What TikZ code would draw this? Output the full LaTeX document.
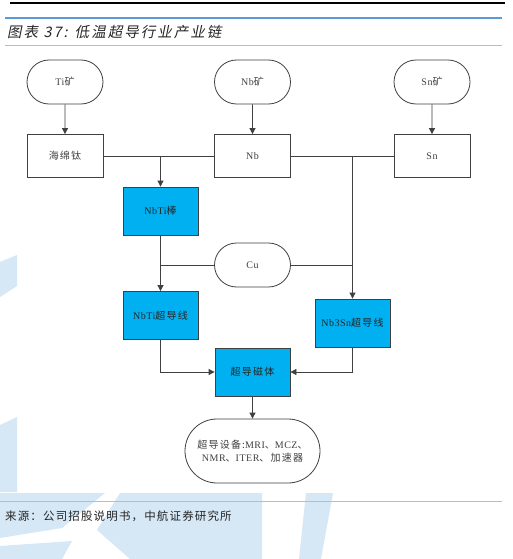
\documentclass[tikz,border=0pt]{standalone}
\usepackage{fontspec}
\newfontfamily\cjk[LetterSpace=10]{Noto Sans CJK SC}
\newfontfamily\cjkn[LetterSpace=12]{Noto Sans CJK SC}
\newfontfamily\cjkit[FakeSlant=0.2,LetterSpace=14]{Noto Sans CJK SC}
\newfontfamily\lat[LetterSpace=5]{Liberation Serif}
\usetikzlibrary{shapes.misc,arrows.meta}
\definecolor{wm}{HTML}{D6E8F6}
\definecolor{topblue}{HTML}{5B9BD5}
\definecolor{thinblue}{HTML}{9DC3E6}
\definecolor{boxblue}{HTML}{00B0F0}
\definecolor{edge}{HTML}{404040}
\definecolor{txt}{HTML}{404040}
\begin{document}
\begin{tikzpicture}[x=1pt,y=-1pt,
  base/.style={draw=edge,line width=0.8pt,inner sep=0pt,align=center,font=\cjkn\fontsize{10}{13}\selectfont,text=txt},
  stadium/.style={base,rounded rectangle,minimum width=76pt,minimum height=44pt},
  whitebox/.style={base,rectangle,minimum width=76pt,minimum height=43pt,fill=white},
  bluebox/.style={base,rectangle,minimum width=75pt,minimum height=48pt,fill=boxblue,text=black!85},
  arr/.style={draw=edge,line width=0.8pt,-{Triangle[length=6pt,width=6pt]}},
  ln/.style={draw=edge,line width=0.8pt}]
\useasboundingbox (0,0) rectangle (512,559);
\fill[white] (0,0) rectangle (512,559);
% watermark
\fill[wm] (0,262) -- (17,255) -- (17,286) -- (0,297) -- cycle;
\fill[wm] (0,425) -- (17,417) -- (17,492) -- (0,492) -- cycle;
\fill[wm] (0,493) -- (105,493) -- (62,528) -- (0,538) -- cycle;
\fill[wm] (120,493) -- (262,493) -- (262,559) -- (130,559) -- (97,530) -- cycle;
\fill[wm] (0,546) -- (72,541) -- (62,559) -- (0,559) -- cycle;
\fill[wm] (306,493) -- (333,493) -- (321,559) -- (299,559) -- cycle;
% header lines
\draw[black,line width=1.2pt] (10,3) -- (505,3);
\draw[topblue,line width=2pt] (5,18) -- (502,18);
\draw[thinblue,line width=0.8pt] (5,45) -- (502,45);
\node[anchor=west,inner sep=0pt,text=black!85,font=\cjkit\fontsize{14.5}{16}\selectfont] (cap) at (7,32) {图表 37: 低温超导行业产业链};
\draw[thinblue,line width=0.8pt] (0,501) -- (502,501);
\node[anchor=west,inner sep=0pt,text=black!85,font=\cjk\fontsize{11.5}{14}\selectfont] (src) at (5,516) {来源：公司招股说明书，中航证券研究所};
% nodes
\node[stadium] (ti) at (65,82) {{\lat Ti}矿};
\node[stadium] (nbm) at (252.5,82) {{\lat Nb}矿};
\node[stadium] (snm) at (432,82) {{\lat Sn}矿};
\node[whitebox] (hmt) at (65,156) {海绵钛};
\node[whitebox] (nb) at (252.5,156) {\lat Nb};
\node[whitebox] (sn) at (432,156) {\lat Sn};
\node[bluebox] (nbtib) at (160.5,211) {{\lat NbTi}棒};
\node[stadium] (cu) at (252.5,265) {\lat Cu};
\node[bluebox] (nbtiw) at (160.5,315.5) {{\lat NbTi}超导线};
\node[bluebox] (nb3sn) at (352.5,323) {{\lat Nb3Sn}超导线};
\node[bluebox] (mag) at (252.5,372) {超导磁体};
\node[base,rounded rectangle,minimum width=135pt,minimum height=64pt] (dev) at (252.5,451)
  {超导设备:{\lat MRI}、{\lat MCZ}、\\{\lat NMR}、{\lat ITER}、加速器};
\coordinate (j1) at (160.5,156);
\coordinate (j2) at (352.5,156);
\coordinate (j3) at (160.5,265);
\coordinate (j4) at (352.5,265);
% connectors
\draw[arr] (ti) -- (hmt);
\draw[arr] (nbm) -- (nb);
\draw[arr] (snm) -- (sn);
\draw[ln] (hmt.east) -- (nb.west);
\draw[ln] (nb.east) -- (sn.west);
\draw[arr] (j1) -- (nbtib);
\draw[arr] (j2) -- (nb3sn);
\draw[arr] (nbtib) -- (nbtiw);
\draw[ln] (cu.west) -- (j3);
\draw[ln] (cu.east) -- (j4);
\draw[arr] (nbtiw.south) |- (mag.west);
\draw[arr] (nb3sn.south) |- (mag.east);
\draw[arr] (mag) -- (dev);
\end{tikzpicture}
\end{document}
